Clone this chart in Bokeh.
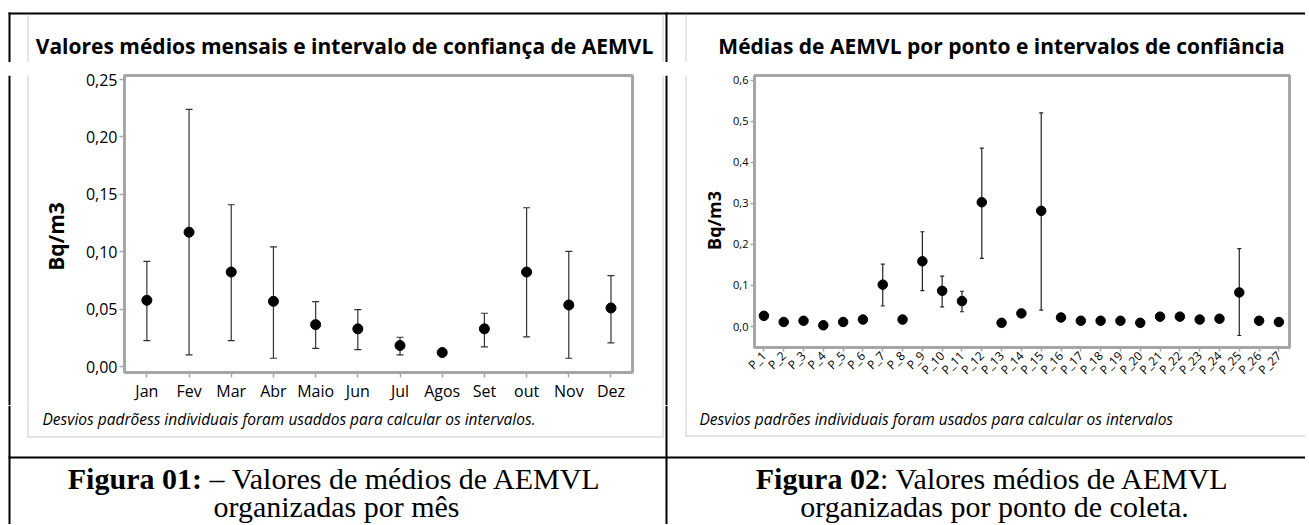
from math import pi
from bokeh.plotting import figure
from bokeh.models import (Range1d, ColumnDataSource, Whisker, TeeHead, Label,
                          FixedTicker, CustomJSTickFormatter)
from bokeh.layouts import row, column
from bokeh.embed import file_html
from bokeh.resources import INLINE

# ---------------- data ----------------
months = ["Jan", "Fev", "Mar", "Abr", "Maio", "Jun", "Jul", "Agos", "Set", "out", "Nov", "Dez"]
month_mean = [0.0577, 0.1170, 0.0823, 0.0568, 0.0365, 0.0328, 0.0183, 0.0122, 0.0328, 0.0823, 0.0536, 0.0510]
month_upper = [0.0916, 0.2240, 0.1409, 0.1043, 0.0565, 0.0496, 0.0255, 0.0135, 0.0464, 0.1383, 0.1003, 0.0791]
month_lower = [0.0226, 0.0101, 0.0226, 0.0072, 0.0159, 0.0148, 0.0101, 0.0110, 0.0171, 0.0258, 0.0072, 0.0206]
left_yticks = [0.00, 0.05, 0.10, 0.15, 0.20, 0.25]

points = ["P_%d" % i for i in range(1, 28)]
point_mean = [0.026, 0.011, 0.014, 0.003, 0.011, 0.017, 0.102, 0.017, 0.159, 0.087,
              0.062, 0.303, 0.009, 0.032, 0.282, 0.022, 0.014, 0.014, 0.014, 0.009,
              0.024, 0.024, 0.017, 0.019, 0.083, 0.014, 0.011]
point_upper = [0.028, 0.013, 0.016, 0.005, 0.013, 0.019, 0.152, 0.019, 0.231, 0.123,
               0.086, 0.435, 0.011, 0.035, 0.521, 0.024, 0.016, 0.016, 0.016, 0.011,
               0.026, 0.026, 0.019, 0.021, 0.190, 0.016, 0.013]
point_lower = [0.024, 0.009, 0.012, 0.001, 0.009, 0.015, 0.050, 0.015, 0.0875, 0.048,
               0.036, 0.166, 0.007, 0.029, 0.040, 0.020, 0.012, 0.012, 0.012, 0.007,
               0.022, 0.022, 0.015, 0.017, -0.022, 0.012, 0.009]
right_yticks = [0.0, 0.1, 0.2, 0.3, 0.4, 0.5, 0.6]

y_label = "Bq/m3"
title_left = "Valores médios mensais e intervalo de confiança de AEMVL"
title_right = "Médias de AEMVL por ponto e intervalos de confiância"
note_left = "Desvios padrõess individuais foram usaddos para calcular os intervalos."
note_right = "Desvios padrões individuais foram usados para calcular os intervalos"
cap_left = ("Figura 01:", "– Valores de médios de AEMVL", "organizadas por mês")
cap_right = ("Figura 02", ": Valores médios de AEMVL", "organizadas por ponto de coleta.")

# ---------------- style ----------------
SANS = "Open Sans"
SERIF = "Liberation Serif"
FRAME = "#A6A6A6"
PANEL = "#CCCCCC"
BLACK = "black"
TITLE_FS = "21px"
NOTE_FS = "15.5px"
W = 1305                      # page width used
Y_TOP, Y_CHART, Y_BOT = 62, 405, 524   # strip boundaries (page y)


def canvas(w, h):
    return figure(frame_width=w, frame_height=h, x_range=Range1d(0, w), y_range=Range1d(h, 0),
                  min_border=0, x_axis_type=None, y_axis_type=None, toolbar_location=None,
                  output_backend="svg", outline_line_color=None,
                  background_fill_color="white", border_fill_color="white")


def bar(p, x0, x1, y0, y1, color):
    p.quad(left=x0, right=x1, top=y0, bottom=y1, color=color, line_color=None)


def text(p, x, y, s, size, style="normal", align="left", font=SANS, angle=0.0):
    p.add_layout(Label(x=x, y=y, text=s, text_font=font, text_font_style=style,
                       text_font_size=size, text_align=align, text_baseline="middle",
                       text_color="black", angle=angle))


def chart(x0, x1, frame, xr, yr, tick_size, tick_out):
    fl, ft, fr, fb = frame
    p = figure(frame_width=fr - fl, frame_height=fb - ft,
               x_range=Range1d(*xr), y_range=Range1d(*yr),
               min_border_left=fl - x0, min_border_right=x1 - fr,
               min_border_top=ft - Y_TOP, min_border_bottom=Y_CHART - fb,
               toolbar_location=None, output_backend="svg",
               background_fill_color="white", border_fill_color="white")
    p.outline_line_color = FRAME
    p.outline_line_width = 3
    p.grid.visible = False
    for ax in (p.xaxis[0], p.yaxis[0]):
        ax.axis_line_color = None
        ax.major_tick_line_color = FRAME
        ax.major_tick_line_width = 1.5
        ax.major_tick_out = tick_out
        ax.major_tick_in = 0
        ax.minor_tick_line_color = None
        ax.major_label_text_font = SANS
        ax.major_label_text_font_size = tick_size
        ax.major_label_text_color = "black"
        ax.major_label_standoff = 2
    return p


# ---------------- left chart (page x 80..636) ----------------
month_x = list(range(1, len(months) + 1))
pL = chart(80, 636, (124, 75, 632, 372), (0.47, 12.51), (-0.0052, 0.2535), "16px", 5)
pL.xaxis.ticker = FixedTicker(ticks=month_x)
pL.xaxis.major_label_overrides = {x: m for x, m in zip(month_x, months)}
pL.yaxis.ticker = FixedTicker(ticks=left_yticks)
pL.yaxis.formatter = CustomJSTickFormatter(code="return tick.toFixed(2).replace('.', ',')")
srcL = ColumnDataSource(dict(x=month_x, mean=month_mean, upper=month_upper, lower=month_lower))
pL.add_layout(Whisker(base="x", upper="upper", lower="lower", source=srcL,
                      line_color="#333333", line_width=1.2,
                      upper_head=TeeHead(size=7, line_color="#333333", line_width=1.2),
                      lower_head=TeeHead(size=7, line_color="#333333", line_width=1.2)))
pL.scatter("x", "mean", source=srcL, size=10, color="black")

# ---------------- right chart (page x 726..1305) ----------------
point_x = list(range(1, len(points) + 1))
pR = chart(726, W, (754, 71, 1289, 343), (0.525, 27.535), (-0.0512, 0.612), "11px", 4)
pR.xaxis.ticker = FixedTicker(ticks=point_x)
pR.xaxis.major_label_overrides = {x: s for x, s in zip(point_x, points)}
pR.xaxis.major_label_orientation = pi / 4
pR.xaxis.major_label_text_font_size = "12px"
pR.yaxis.ticker = FixedTicker(ticks=right_yticks)
pR.yaxis.formatter = CustomJSTickFormatter(code="return tick.toFixed(1).replace('.', ',')")
srcR = ColumnDataSource(dict(x=point_x, mean=point_mean, upper=point_upper, lower=point_lower))
pR.add_layout(Whisker(base="x", upper="upper", lower="lower", source=srcR,
                      line_color="#222222", line_width=1.2,
                      upper_head=TeeHead(size=4, line_color="#222222", line_width=1.2),
                      lower_head=TeeHead(size=4, line_color="#222222", line_width=1.2)))
pR.scatter("x", "mean", source=srcR, size=9.5, color="black")

# ---------------- side strips of the chart row ----------------
HC = Y_CHART - Y_TOP
sL = canvas(80, HC)                         # page x 0..80
bar(sL, 8, 10, 0, HC, BLACK)
bar(sL, 27, 28, 0, HC, PANEL)
text(sL, 55, 223 - Y_TOP, y_label, "21px", "bold", "center", angle=pi / 2)

mid = canvas(90, HC)                        # page x 636..726
bar(mid, 26, 27, 0, HC, PANEL)              # left panel edge   (page 662)
bar(mid, 29, 31, 0, HC, BLACK)              # table line        (page 665..667)
bar(mid, 49, 50, 0, HC, PANEL)              # right panel edge  (page 685)
text(mid, 77, 207 - Y_TOP, y_label, "18px", "bold", "center", angle=pi / 2)

# ---------------- top strip: table line + titles (page y 0..62) ----------------
top = canvas(W, Y_TOP)
bar(top, 8, W, 12, 14, BLACK)
bar(top, 8, 10, 12, Y_TOP, BLACK)
bar(top, 665, 667, 12, Y_TOP, BLACK)
for gx in (27, 662, 685):
    bar(top, gx, gx + 1, 14, Y_TOP, PANEL)
text(top, 344, 45, title_left, TITLE_FS, "bold", "center")
text(top, 1001, 45, title_right, TITLE_FS, "bold", "center")

# ---------------- bottom strip: notes + captions (page y 405..524) ----------------
HB = Y_BOT - Y_CHART


def by(y):          # page y -> bottom strip y
    return y - Y_CHART


bot = canvas(W, HB)
bar(bot, 8, 10, 0, HB, BLACK)
bar(bot, 665, 667, 0, HB, BLACK)
bar(bot, 27, 28, 0, by(437), PANEL)
bar(bot, 662, 663, 0, by(437), PANEL)
bar(bot, 27, 663, by(436), by(437), PANEL)
bar(bot, 685, 686, 0, by(436), PANEL)
bar(bot, 685, W, by(435), by(436), PANEL)
bar(bot, 8, W, by(456), by(458), BLACK)
text(bot, 42, by(418), note_left, NOTE_FS, "italic")
text(bot, 699, by(418), note_right, NOTE_FS, "italic")

FS = 30
# Times / Liberation Serif advance widths (em)
bold_w = {"Figura 01:": 4.472, "Figura 02": 4.139}
reg_w = {"– Valores de médios de AEMVL": 13.192, ": Valores médios de AEMVL": 11.776}
gap = {"Figura 01:": 0.25, "Figura 02": 0.0}


def caption(cx, parts):
    b, r, l2 = parts
    total = (bold_w[b] + gap[b] + reg_w[r]) * FS
    x0 = cx - total / 2
    text(bot, x0, by(478), b, "%dpx" % FS, "bold", "left", SERIF)
    text(bot, x0 + (bold_w[b] + gap[b]) * FS, by(478), r, "%dpx" % FS, "normal", "left", SERIF)
    text(bot, cx, by(506), l2, "%dpx" % FS, "normal", "center", SERIF)


caption(336, cap_left)
caption(994, cap_right)

page = column(top, row(sL, pL, mid, pR), bot)

open("out.html", "w").write(file_html(page, INLINE))
